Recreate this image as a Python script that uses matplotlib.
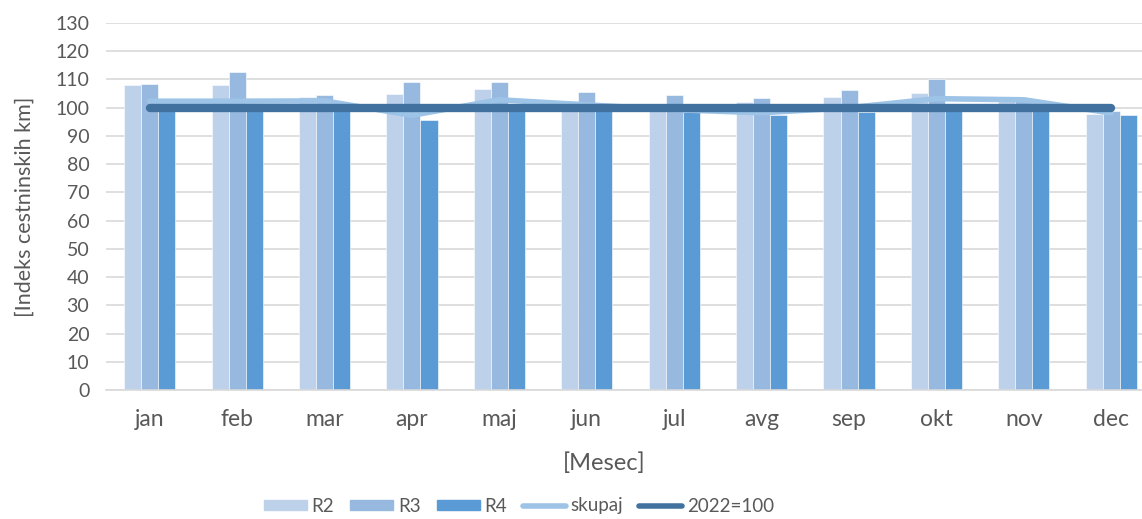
import numpy as np
import matplotlib
matplotlib.use("Agg")
import matplotlib.pyplot as plt
from matplotlib.lines import Line2D
from matplotlib.patches import Patch

# =====================
# データ
# =====================
months = ["jan", "feb", "mar", "apr", "maj", "jun", "jul", "avg", "sep", "okt", "nov", "dec"]
r2 = [108.1, 108.1, 103.9, 105.0, 106.7, 102.2, 100.5, 101.9, 103.9, 105.2, 103.0, 97.8]
r3 = [108.5, 112.5, 104.6, 109.1, 109.2, 105.6, 104.6, 103.3, 106.2, 110.1, 103.5, 99.0]
r4 = [100.5, 101.0, 100.8, 95.5, 101.2, 100.5, 98.4, 97.5, 98.4, 101.4, 100.8, 97.3]
skupaj = [102.3, 102.3, 102.4, 97.3, 102.8, 101.0, 99.3, 98.2, 100.0, 103.2, 102.8, 98.1]
base = [100] * 12
y_ticks = list(range(0, 131, 10))

C_R2 = "#BDD1EA"
C_R3 = "#97B9E0"
C_R4 = "#5B9BD5"
C_SK = "#9DC3E6"
C_BASE = "#41729F"
TXT = "#595959"

plt.rcParams["font.family"] = ["Lato", "DejaVu Sans"]

fig = plt.figure(figsize=(11.42, 5.19), dpi=100)
# 右端は元画像で少し切れている
ax = fig.add_axes([106 / 1142, 1 - 390 / 519, 1049 / 1142, 367 / 519])

x = np.arange(len(months))
w = 0.195
ax.bar(x - w, r2, w, color=C_R2, edgecolor="white", linewidth=0.4, zorder=2)
ax.bar(x, r3, w, color=C_R3, edgecolor="white", linewidth=0.4, zorder=2)
ax.bar(x + w, r4, w, color=C_R4, edgecolor="white", linewidth=0.4, zorder=2)
ax.plot(x, skupaj, color=C_SK, lw=4, solid_capstyle="round", zorder=3)
ax.plot(x, base, color=C_BASE, lw=6, solid_capstyle="round", zorder=4)

ax.set_xlim(-0.5, len(months) - 0.5)
ax.set_ylim(0, 130)
ax.set_yticks(y_ticks)
ax.set_xticks(x)
ax.set_xticklabels(months)
ax.tick_params(axis="both", length=0, colors=TXT)
ax.tick_params(axis="y", labelsize=14, pad=12)
ax.tick_params(axis="x", labelsize=16.5, pad=14)
ax.grid(axis="y", color="#D9D9D9", lw=1.2, zorder=0)
ax.set_axisbelow(True)
for s in ["top", "right", "left"]:
    ax.spines[s].set_visible(False)
ax.spines["bottom"].set_color("#D9D9D9")
ax.spines["bottom"].set_linewidth(1.2)

ax.set_ylabel("[Indeks cestninskih km]", fontsize=15.5, color=TXT, labelpad=15)
fig.text(604 / 1142, 1 - 463 / 519, "[Mesec]", fontsize=17, color=TXT, ha="center", va="center")

handles = [
    Patch(color=C_R2, label="R2"),
    Patch(color=C_R3, label="R3"),
    Patch(color=C_R4, label="R4"),
    Line2D([], [], color=C_SK, lw=4, solid_capstyle="round", label="skupaj"),
    Line2D([], [], color=C_BASE, lw=4, solid_capstyle="round", label="2022=100"),
]
fig.legend(handles=handles, loc="center", bbox_to_anchor=(519 / 1142, 1 - 506 / 519),
           ncol=5, frameon=False, fontsize=13.5, labelcolor=TXT,
           handlelength=2.3, handleheight=0.5, handletextpad=0.25, columnspacing=0.85)

fig.savefig("out.png", dpi=100)
